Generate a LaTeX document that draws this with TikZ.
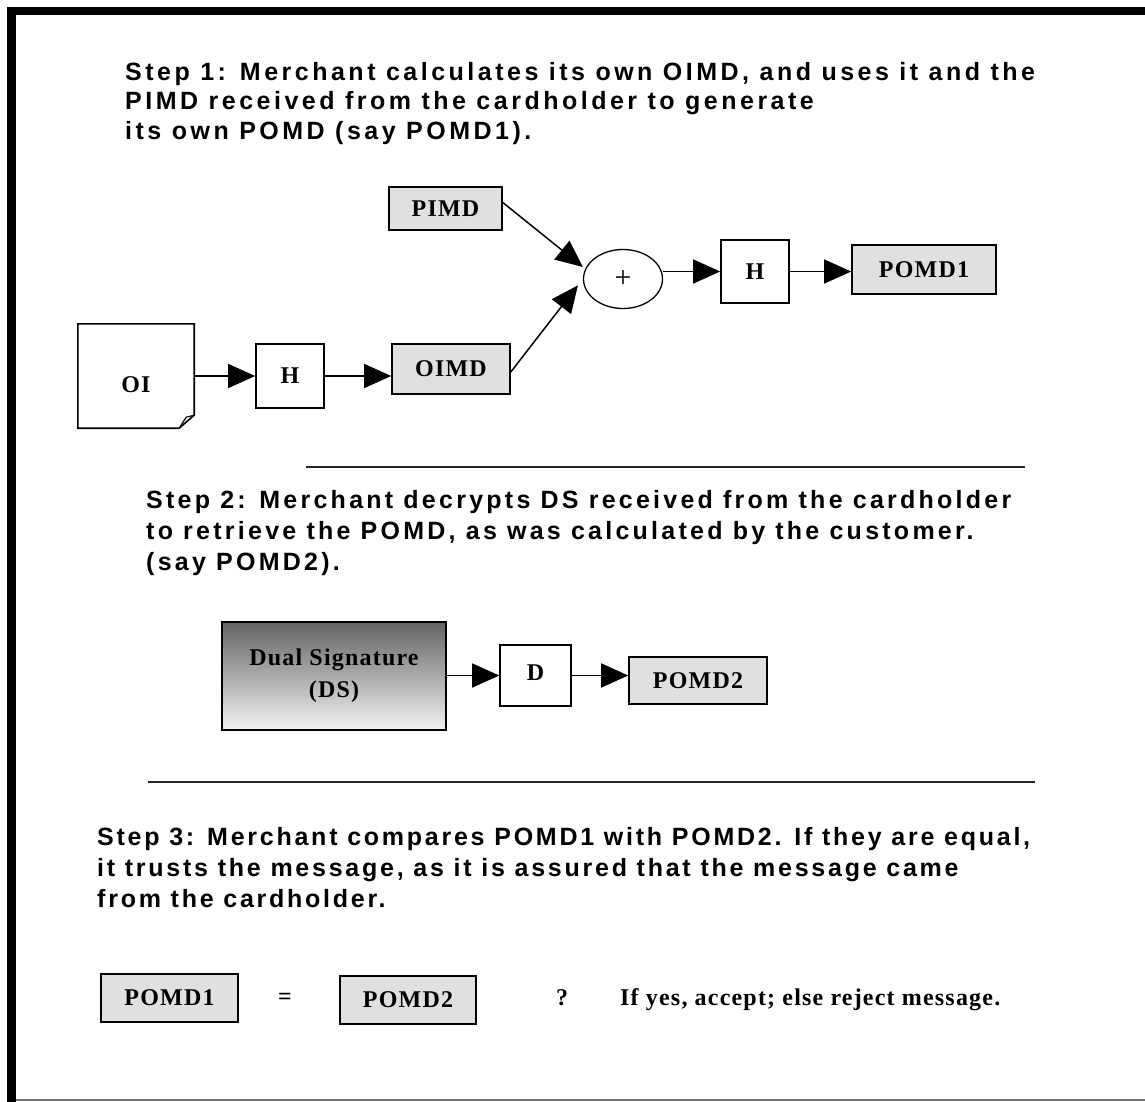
\documentclass[tikz,border=0pt]{standalone}
\usepackage{fontspec}
\setmainfont{Liberation Serif}
\setsansfont{Liberation Sans}
\newfontfamily\stepfont{Liberation Sans}[LetterSpace=14]
\newfontfamily\boxfont{Liberation Serif}[LetterSpace=5]
\usetikzlibrary{arrows.meta,shapes.geometric,positioning}
\definecolor{boxgray}{HTML}{E0E0E0}
\definecolor{dsdark}{HTML}{646464}
\definecolor{dslight}{HTML}{F2F2F2}
\tikzset{box/.style={draw=black,line width=1.6pt,fill=boxgray,inner sep=0pt,font=\boxfont\bfseries\fontsize{24}{27}\selectfont},
  hashbox/.style={box,fill=white},
  flow/.style={line width=1.5pt,-{Triangle[length=27pt,width=24pt]}},
  steptext/.style={anchor=north west,align=left,inner sep=0pt,font=\stepfont\bfseries\fontsize{25}{31}\selectfont},
  plain/.style={inner sep=0pt,font=\boxfont\bfseries\fontsize{24}{27}\selectfont},
  sepline/.style={line width=2pt,black!85}}

\begin{document}
\begin{tikzpicture}[x=1pt,y=-1pt]
\useasboundingbox (0,0) rectangle (1145,1102);
% frame
\fill[black] (7,7) rectangle (1145,15);
\fill[black] (7,7) rectangle (16,1102);
\draw[black!55,line width=2pt] (16,1100)--(1145,1100);
% step 1
\node[steptext,font=\stepfont\bfseries\fontsize{25}{29.5}\selectfont] (stepA) at (125,62) {Step 1: Merchant calculates its own OIMD, and uses it and the\\PIMD received from the cardholder to generate\\its own POMD (say POMD1).};
\node[box,minimum width=113pt,minimum height=43pt] (pimd) at (445.5,208.5) {PIMD};
\node[ellipse,draw,line width=1.3pt,minimum width=79pt,minimum height=59pt,inner sep=0pt,font=\rmfamily\fontsize{30}{30}\selectfont] (plus) at (623,279) {+};
\node[hashbox,minimum width=68pt,minimum height=63pt] (hashA) at (755,271.5) {H};
\node[box,minimum width=144pt,minimum height=49pt] (pomdA) at (924,269.5) {POMD1};
\node[minimum width=116pt,minimum height=104pt,inner sep=0pt,label={[plain,yshift=-9pt]center:OI}] (oi) at (136,376) {};
\draw[line width=1.6pt] (oi.north west)--(oi.north east)--([yshift=13pt]oi.south east)--([xshift=-15pt]oi.south east)--(oi.south west)--cycle;
\draw[line width=1.2pt] ([yshift=13pt]oi.south east)--([xshift=-8pt,yshift=11pt]oi.south east)--([xshift=-15pt]oi.south east);
\node[hashbox,minimum width=68pt,minimum height=64pt] (hashB) at (290,376) {H};
\node[box,minimum width=118pt,minimum height=50pt] (oimd) at (451,369) {OIMD};
\draw[flow] (oi)--(hashB);
\draw[flow] (hashB.east)--(hashB.east -| oimd.west);
\draw[flow,shorten >=3pt] ([yshift=6pt]pimd.east)--(plus.165);
\draw[flow,shorten >=8pt] ([yshift=-3pt]oimd.east)--(plus.west);
\draw[flow] (plus.east |- hashA)--(hashA);
\draw[flow] (hashA.east)--(hashA.east -| pomdA.west);
\draw[sepline] (306,467)--(1025,467);
% step 2
\node[steptext,font=\stepfont\bfseries\addfontfeature{LetterSpace=13}\fontsize{25}{31}\selectfont] (stepB) at (146,490) {Step 2: Merchant decrypts DS received from the cardholder\\to retrieve the POMD, as was calculated by the customer.\\(say POMD2).};
\node[box,top color=dsdark,bottom color=dslight,minimum width=224pt,minimum height=108pt,align=center,font=\boxfont\bfseries\fontsize{24}{32}\selectfont] (ds) at (334,676) {Dual Signature\\(DS)};
\node[hashbox,minimum width=71pt,minimum height=61pt,text depth=6pt] (dec) at (535.5,675.5) {D};
\node[box,minimum width=138pt,minimum height=47pt] (pomdB) at (698,680.5) {POMD2};
\draw[flow] (ds.east |- dec)--(dec);
\draw[flow] (dec)--(dec -| pomdB.west);
\draw[sepline] (148,782)--(1035,782);
% step 3
\node[steptext,font=\stepfont\bfseries\addfontfeature{LetterSpace=11}\fontsize{25}{31}\selectfont] (stepC) at (97,827) {Step 3: Merchant compares POMD1 with POMD2. If they are equal,\\it trusts the message, as it is assured that the message came\\from the cardholder.};
\node[box,minimum width=137pt,minimum height=48pt] (cmpA) at (169.5,998) {POMD1};
\node[plain] (eq) at (285,999) {=};
\node[box,minimum width=136pt,minimum height=48pt] (cmpB) at (408,1000) {POMD2};
\node[plain] (qm) at (562,998) {?};
\node[plain,anchor=west] (verdict) at (620,1000) {If yes, accept; else reject message.};
\end{tikzpicture}
\end{document}
